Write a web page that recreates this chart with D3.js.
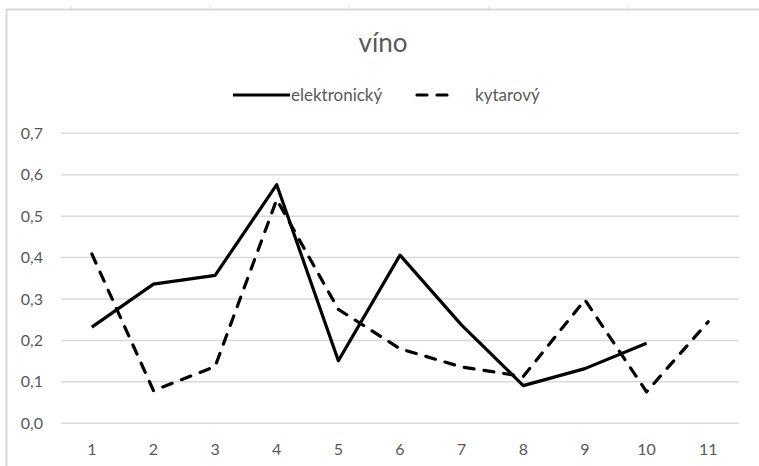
<!DOCTYPE html>
<html>
<head>
<meta charset="utf-8">
<script src="https://cdn.jsdelivr.net/npm/d3@7"></script>
<style>
  html, body { margin: 0; padding: 0; background: #fff; }
  svg { display: block; font-family: Lato, "Open Sans", sans-serif; }
</style>
</head>
<body>
<svg id="chart" width="759" height="466"></svg>
<script>
// Categories on the x axis
const categories = ["1", "2", "3", "4", "5", "6", "7", "8", "9", "10", "11"];
// Series values (null = no value for that category)
const elektronicky = [0.232, 0.336, 0.357, 0.576, 0.151, 0.406, 0.237, 0.091, 0.132, 0.193, null];
const kytarovy = [0.409, 0.079, 0.137, 0.54, 0.275, 0.18, 0.136, 0.113, 0.298, 0.076, 0.245];
const yTicks = [0, 0.1, 0.2, 0.3, 0.4, 0.5, 0.6, 0.7];
const title = "víno";
const seriesNames = ["elektronický", "kytarový"];

const svg = d3.select("#chart");
const textColor = "#595959";
const gridColor = "#d9d9d9";

// Sheet column marks above the chart area
[71, 210, 349, 489, 628].forEach(x => {
  svg.append("line").attr("x1", x).attr("x2", x).attr("y1", 5).attr("y2", 9)
    .attr("stroke", "#e3e3e3").attr("stroke-width", 1);
});

// Chart area border (top and left edges visible)
svg.append("path")
  .attr("d", "M6.5,470 L6.5,9.5 L770,9.5")
  .attr("fill", "none").attr("stroke", "#d9d9d9").attr("stroke-width", 2);

const x = d3.scalePoint().domain(categories).range([61, 739]).padding(0.5);
const y = d3.scaleLinear().domain([0, 0.7]).range([423.3, 133.3]);

// Horizontal gridlines
svg.append("g").selectAll("line").data(yTicks).join("line")
  .attr("x1", 61).attr("x2", 739)
  .attr("y1", d => y(d)).attr("y2", d => y(d))
  .attr("stroke", gridColor).attr("stroke-width", 1.5);

// Y axis labels
const fmt = d => d3.format(".1f")(d).replace(".", ",");
svg.append("g").selectAll("text").data(yTicks).join("text")
  .attr("x", 43).attr("y", d => y(d)).attr("dy", "0.35em")
  .attr("text-anchor", "end").attr("fill", textColor)
  .attr("font-size", 16).text(fmt);

// X axis labels
svg.append("g").selectAll("text").data(categories).join("text")
  .attr("x", d => x(d)).attr("y", 455)
  .attr("text-anchor", "middle").attr("fill", textColor)
  .attr("font-size", 16).text(d => d);

// Lines
const line = d3.line()
  .defined(d => d.v != null)
  .x(d => x(d.c)).y(d => y(d.v));

const toPts = arr => categories.map((c, i) => ({ c, v: arr[i] }));

svg.append("path").datum(toPts(kytarovy))
  .attr("d", line).attr("fill", "none")
  .attr("stroke", "#000").attr("stroke-width", 3.2)
  .attr("stroke-dasharray", "10,10").attr("stroke-linecap", "round")
  .attr("stroke-linejoin", "round");

svg.append("path").datum(toPts(elektronicky))
  .attr("d", line).attr("fill", "none")
  .attr("stroke", "#000").attr("stroke-width", 3.2)
  .attr("stroke-linejoin", "round");

// Title
svg.append("text").attr("x", 383).attr("y", 52)
  .attr("text-anchor", "middle").attr("fill", textColor)
  .attr("font-size", 26).text(title);

// Legend
const lg = svg.append("g");
lg.append("line").attr("x1", 233).attr("x2", 290).attr("y1", 95).attr("y2", 95)
  .attr("stroke", "#000").attr("stroke-width", 3.2);
lg.append("text").attr("x", 291).attr("y", 100.5).attr("fill", textColor)
  .attr("font-size", 17).text(seriesNames[0]);
lg.append("line").attr("x1", 417).attr("x2", 457).attr("y1", 95).attr("y2", 95)
  .attr("stroke", "#000").attr("stroke-width", 3.2)
  .attr("stroke-dasharray", "10,10").attr("stroke-linecap", "round");
lg.append("text").attr("x", 475).attr("y", 100.5).attr("fill", textColor)
  .attr("font-size", 17).text(seriesNames[1]);
</script>
</body>
</html>
